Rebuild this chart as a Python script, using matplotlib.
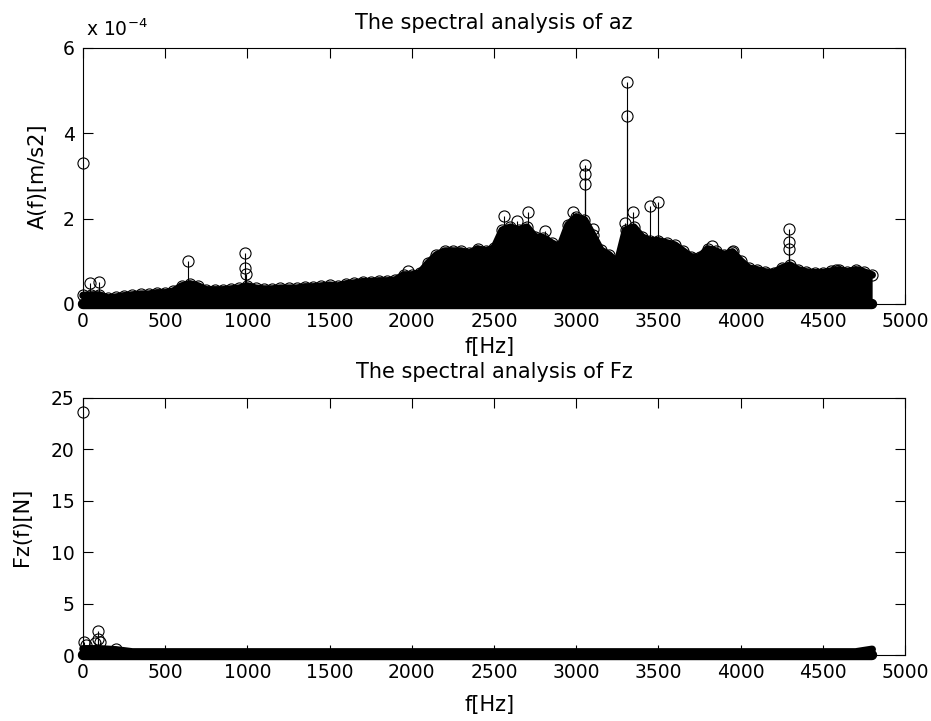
import numpy as np
import matplotlib
matplotlib.use("Agg")
from matplotlib import pyplot as plt

plt.rcParams['font.family'] = ['DejaVu Sans']
plt.rcParams['mathtext.fontset'] = 'dejavusans'

# --- az spectrum, amplitudes in units of 1e-4 m/s2 ---
az_band_f = [0, 50, 100, 150, 200, 250, 300, 350, 400, 450,
             500, 550, 600, 650, 700, 750, 800, 850, 900, 950,
             1000, 1050, 1100, 1150, 1200, 1250, 1300, 1350, 1400, 1450,
             1500, 1550, 1600, 1650, 1700, 1750, 1800, 1850, 1900, 1950,
             2000, 2050, 2100, 2150, 2200, 2250, 2300, 2350, 2400, 2450,
             2500, 2550, 2600, 2650, 2700, 2750, 2800, 2850, 2900, 2950,
             3000, 3050, 3100, 3150, 3200, 3250, 3300, 3350, 3400, 3450,
             3500, 3550, 3600, 3650, 3700, 3750, 3800, 3850, 3900, 3950,
             4000, 4050, 4100, 4150, 4200, 4250, 4300, 4350, 4400, 4450,
             4500, 4550, 4600, 4650, 4700, 4750, 4800]
az_band_top = [0.20, 0.21, 0.21, 0.14, 0.16, 0.19, 0.21, 0.23, 0.23, 0.26,
               0.26, 0.30, 0.42, 0.47, 0.42, 0.33, 0.33, 0.33, 0.35, 0.37,
               0.42, 0.37, 0.35, 0.35, 0.37, 0.37, 0.37, 0.40, 0.40, 0.42,
               0.44, 0.42, 0.47, 0.49, 0.52, 0.52, 0.54, 0.54, 0.56, 0.68,
               0.68, 0.73, 0.96, 1.15, 1.24, 1.24, 1.24, 1.19, 1.29, 1.24,
               1.31, 1.73, 1.80, 1.73, 1.80, 1.57, 1.55, 1.43, 1.33, 1.85,
               2.04, 1.97, 1.62, 1.26, 1.15, 0.96, 1.73, 1.80, 1.57, 1.48,
               1.48, 1.43, 1.38, 1.24, 1.10, 1.10, 1.29, 1.24, 1.15, 1.22,
               1.01, 0.84, 0.80, 0.75, 0.73, 0.84, 0.91, 0.80, 0.75, 0.73,
               0.73, 0.77, 0.80, 0.75, 0.80, 0.75, 0.68]
az_peak_f = [0, 40, 95, 640, 985, 985, 990, 1975, 2230, 2560, 2640, 2705,
             2810, 2980, 3053, 3053, 3053, 3105, 3295, 3310, 3310, 3345,
             3450, 3500, 3825, 3955, 4295, 4295, 4295, 4580, 4720]
az_peak_a = [3.3, 0.48, 0.52, 1.0, 1.2, 0.85, 0.7, 0.78, 1.2, 2.05, 1.95, 2.15,
             1.7, 2.15, 3.25, 3.05, 2.8, 1.75, 1.9, 5.2, 4.4, 2.15,
             2.3, 2.4, 1.35, 1.25, 1.75, 1.45, 1.3, 0.8, 0.75]

# --- Fz spectrum, amplitudes in N ---
fz_band_f = [0, 100, 200, 300, 400, 500, 600, 700, 800, 900,
             1000, 1100, 1200, 1300, 1400, 1500, 1600, 1700, 1800, 1900,
             2000, 2100, 2200, 2300, 2400, 2500, 2600, 2700, 2800, 2900,
             3000, 3100, 3200, 3300, 3400, 3500, 3600, 3700, 3800, 3900,
             4000, 4100, 4200, 4300, 4400, 4500, 4600, 4700, 4800]
fz_band_top = [0.6, 0.6, 0.5, 0.3, 0.3, 0.3, 0.3, 0.3, 0.3, 0.3,
               0.3, 0.3, 0.3, 0.3, 0.3, 0.3, 0.3, 0.3, 0.3, 0.3,
               0.3, 0.3, 0.3, 0.3, 0.3, 0.3, 0.3, 0.3, 0.3, 0.3,
               0.3, 0.3, 0.3, 0.3, 0.3, 0.3, 0.3, 0.3, 0.3, 0.3,
               0.3, 0.3, 0.3, 0.3, 0.3, 0.3, 0.3, 0.3, 0.55]
fz_peak_f = [0, 5, 15, 75, 90, 90, 105, 200]
fz_peak_a = [23.6, 1.3, 1.0, 1.2, 2.3, 1.55, 1.3, 0.6]

x_ticks = np.arange(0, 5001, 500)


def spectrum(ax, band_f, band_top, peak_f, peak_a, ylim, yticks, edge_marks=True):
    zeros = np.zeros(len(band_f))
    # dense stems merge into a solid band
    ax.fill_between(band_f, 0, band_top, color='k', lw=0)
    ax.plot(band_f, zeros, color='k', lw=7.5, solid_capstyle='round', clip_on=False)
    ax.plot(band_f, band_top, color='k', lw=5.5, solid_capstyle='round', clip_on=False)
    if edge_marks:
        ax.plot(band_f, band_top, 'o', color='k', mfc='none', ms=8, mew=0.8, clip_on=False)
    ax.vlines(peak_f, 0, peak_a, color='k', lw=0.8)
    ax.plot(peak_f, peak_a, 'o', color='k', mfc='none', ms=8, mew=0.8, clip_on=False)
    ax.set_xlim(0, 5000)
    ax.set_ylim(*ylim)
    ax.set_xticks(x_ticks)
    ax.set_yticks(yticks)
    ax.tick_params(direction='in', length=7, width=0.8, top=True, right=True,
                   labelsize=13.5, pad=6)
    for s in ax.spines.values():
        s.set_linewidth(0.8)


fig = plt.figure(figsize=(9.31, 7.21), dpi=100)

ax1 = fig.add_axes([0.0892, 0.5784, 0.8829, 0.3551])
spectrum(ax1, az_band_f, az_band_top, az_peak_f, az_peak_a, (0, 6), [0, 2, 4, 6])
ax1.text(0.5, 1.075, 'The spectral analysis of az', transform=ax1.transAxes,
         ha='center', va='baseline', fontsize=15)
ax1.text(0.003, 1.047, r'x 10$^{-4}$', transform=ax1.transAxes,
         ha='left', va='baseline', fontsize=13.5)
ax1.set_xlabel('f[Hz]', fontsize=15)
ax1.set_ylabel('A(f)[m/s2]', fontsize=15)
ax1.xaxis.set_label_coords(0.495, -0.13)
ax1.yaxis.set_label_coords(-0.043, 0.5)

ax2 = fig.add_axes([0.0892, 0.0915, 0.8829, 0.3565])
spectrum(ax2, fz_band_f, fz_band_top, fz_peak_f, fz_peak_a, (0, 25), [0, 5, 10, 15, 20, 25],
         edge_marks=False)
ax2.text(0.5, 1.078, 'The spectral analysis of Fz', transform=ax2.transAxes,
         ha='center', va='baseline', fontsize=15)
ax2.set_xlabel('f[Hz]', fontsize=15)
ax2.set_ylabel('Fz(f)[N]', fontsize=15)
ax2.xaxis.set_label_coords(0.495, -0.155)
ax2.yaxis.set_label_coords(-0.062, 0.5)

plt.savefig('out.png', dpi=100)
